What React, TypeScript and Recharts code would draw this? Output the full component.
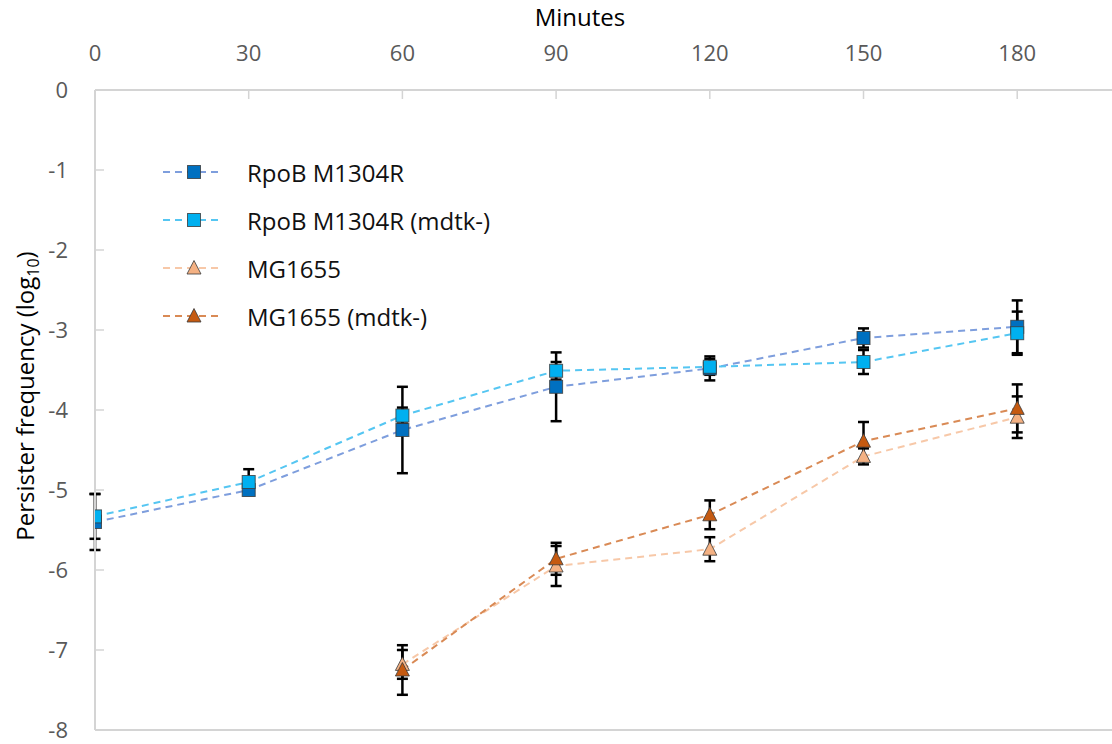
import React from 'react';
import { LineChart, Line, XAxis, YAxis, ErrorBar, Legend, ReferenceLine } from 'recharts';

// Sampling times (minutes) shared by every strain
const minutes = [0, 30, 60, 90, 120, 150, 180];

// log10 persister frequency and the half-length of each error bar
const rpob = [-5.4, -5.0, -4.25, -3.71, -3.48, -3.1, -2.96];
const rpobErr = [0.35, 0.05, 0.54, 0.43, 0.15, 0.12, 0.33];
const rpobMdtk = [-5.33, -4.9, -4.07, -3.51, -3.46, -3.4, -3.04];
const rpobMdtkErr = [0.28, 0.16, 0.1, 0.11, 0.1, 0.15, 0.27];
const mg = [null, null, -7.18, -5.95, -5.74, -4.58, -4.09];
const mgErr = [null, null, 0.18, 0.25, 0.15, 0.1, 0.26];
const mgMdtk = [null, null, -7.25, -5.86, -5.31, -4.39, -3.98];
const mgMdtkErr = [null, null, 0.31, 0.2, 0.18, 0.24, 0.3];

const xTicks = [0, 30, 60, 90, 120, 150, 180];
const yTicks = [0, -1, -2, -3, -4, -5, -6, -7, -8];

const seriesNames = ['RpoB M1304R', 'RpoB M1304R (mdtk-)', 'MG1655', 'MG1655 (mdtk-)'];

const data = minutes.map((m, i) => ({
  minute: m,
  rpob: rpob[i],
  rpobErr: rpobErr[i],
  rpobMdtk: rpobMdtk[i],
  rpobMdtkErr: rpobMdtkErr[i],
  mg: mg[i],
  mgErr: mgErr[i],
  mgMdtk: mgMdtk[i],
  mgMdtkErr: mgMdtkErr[i],
}));

type Shape = 'square' | 'triangle';
interface SeriesDef {
  key: string;
  errKey: string;
  name: string;
  line: string;
  fill: string;
  shape: Shape;
}

const series: SeriesDef[] = [
  { key: 'rpob', errKey: 'rpobErr', name: seriesNames[0], line: '#7E9EDD', fill: '#0070C0', shape: 'square' },
  { key: 'rpobMdtk', errKey: 'rpobMdtkErr', name: seriesNames[1], line: '#55C6F2', fill: '#00B0F0', shape: 'square' },
  { key: 'mg', errKey: 'mgErr', name: seriesNames[2], line: '#F7C8A8', fill: '#F4B183', shape: 'triangle' },
  { key: 'mgMdtk', errKey: 'mgMdtkErr', name: seriesNames[3], line: '#D98A55', fill: '#C55A11', shape: 'triangle' },
];

const FONT = '"Open Sans", "Noto Sans", sans-serif';
const AXIS_GRAY = '#D4D4D4';
const LABEL_GRAY = '#595959';

const Marker = ({ cx, cy, shape, fill }: { cx: number; cy: number; shape: Shape; fill: string }) => {
  if (shape === 'square') {
    return (
      <rect x={cx - 6.5} y={cy - 6.5} width={13} height={13} fill={fill} stroke="#3A3A3A" strokeOpacity={0.8} strokeWidth={1} />
    );
  }
  return (
    <polygon
      points={`${cx},${cy - 7.5} ${cx - 7},${cy + 6} ${cx + 7},${cy + 6}`}
      fill={fill}
      stroke="#3A3A3A"
      strokeOpacity={0.8}
      strokeWidth={1}
      strokeLinejoin="round"
    />
  );
};

const XTick = (props: any) => {
  const { x, y, payload } = props;
  return (
    <g>
      <line x1={x} x2={x} y1={y} y2={y + 9} stroke={AXIS_GRAY} strokeWidth={1.5} />
      <text x={x} y={y - 29} textAnchor="middle" fill={LABEL_GRAY} fontSize={22} fontFamily={FONT}>
        {payload.value}
      </text>
    </g>
  );
};

const YTick = (props: any) => {
  const { x, y, payload } = props;
  const edge = payload.value === 0 || payload.value === -8;
  return (
    <g>
      {!edge && <line x1={x} x2={x + 9} y1={y} y2={y} stroke={AXIS_GRAY} strokeWidth={1.5} />}
      <text x={x - 27} y={y} dy="0.36em" textAnchor="end" fill={LABEL_GRAY} fontSize={22} fontFamily={FONT}>
        {payload.value}
      </text>
    </g>
  );
};

const LegendContent = () => (
  <div style={{ fontFamily: FONT, fontSize: 24, color: '#111' }}>
    {series.map((s) => (
      <div key={s.key} style={{ display: 'flex', alignItems: 'center', height: 48, whiteSpace: 'nowrap' }}>
        <svg width={62} height={20} style={{ display: 'block' }}>
          <line x1={3} x2={62} y1={10} y2={10} stroke={s.line} strokeWidth={2} strokeDasharray="7 5" />
          <Marker cx={34} cy={10} shape={s.shape} fill={s.fill} />
        </svg>
        <span style={{ marginLeft: 25 }}>{s.name}</span>
      </div>
    ))}
  </div>
);

const YTitle = () => (
  <text
    transform="translate(34, 396) rotate(-90)"
    textAnchor="middle"
    fontSize={24}
    fontFamily={FONT}
    fill="#000"
  >
    <tspan>Persister frequency (log</tspan>
    <tspan fontSize={16} dy={5}>10</tspan>
    <tspan dy={-5}>)</tspan>
  </text>
);

const XTitle = () => (
  <text x={580} y={26} textAnchor="middle" fontSize={24} fontFamily={FONT} fill="#000">
    Minutes
  </text>
);

export default function App() {
  return (
    <div style={{ position: 'absolute', left: 0, top: 0, background: '#fff' }}>
      <LineChart width={1112} height={744} data={data} margin={{ top: 0, right: 0, bottom: 14, left: 0 }}>
        <XAxis
          xAxisId={0}
          dataKey="minute"
          type="number"
          orientation="top"
          domain={[0, 198.5]}
          ticks={xTicks}
          height={90}
          tickSize={0}
          tickMargin={0}
          tick={<XTick />}
          tickLine={false}
          axisLine={{ stroke: AXIS_GRAY, strokeWidth: 2 }}
          label={<XTitle />}
          allowDataOverflow
        />
        <YAxis
          yAxisId={0}
          type="number"
          domain={[-8, 0]}
          ticks={yTicks}
          width={95}
          tickSize={0}
          tickMargin={0}
          tick={<YTick />}
          tickLine={false}
          axisLine={{ stroke: AXIS_GRAY, strokeWidth: 2 }}
          label={<YTitle />}
          interval={0}
        />
        <ReferenceLine y={-8} stroke={AXIS_GRAY} strokeWidth={2} />
        {series.map((s) => (
          <Line
            key={s.key}
            dataKey={s.key}
            name={s.name}
            type="linear"
            stroke={s.line}
            strokeWidth={2}
            strokeDasharray="7 5"
            isAnimationActive={false}
            dot={(p: any) =>
              p.cx == null || p.cy == null || p.value == null ? (
                <g key={`${s.key}-${p.index}`} />
              ) : (
                <Marker key={`${s.key}-${p.index}`} cx={p.cx} cy={p.cy} shape={s.shape} fill={s.fill} />
              )
            }
            activeDot={false}
          >
            <ErrorBar dataKey={s.errKey} width={5.5} strokeWidth={2.5} stroke="#000" direction="y" isAnimationActive={false} />
          </Line>
        ))}
        <Legend
          layout="vertical"
          align="center"
          verticalAlign="middle"
          content={<LegendContent />}
          wrapperStyle={{ left: 160, top: 148, width: 'auto' }}
        />
      </LineChart>
    </div>
  );
}
